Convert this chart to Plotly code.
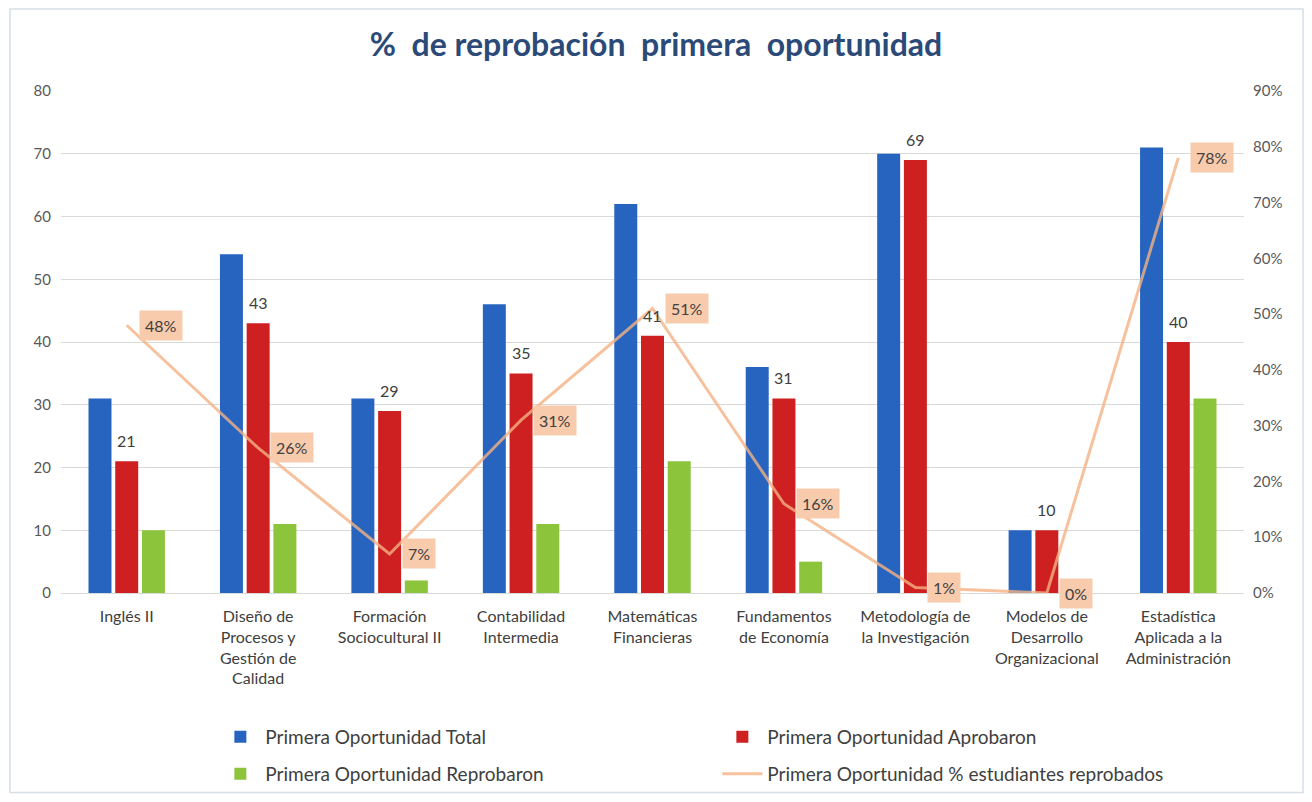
import plotly.graph_objects as go

font_family = 'Lato'
text_color = '#404040'
axis_color = '#595959'

categories = [
	'Inglés II',
	'Diseño de<br>Procesos y<br>Gestión de<br>Calidad',
	'Formación<br>Sociocultural II',
	'Contabilidad<br>Intermedia',
	'Matemáticas<br>Financieras',
	'Fundamentos<br>de Economía',
	'Metodología de<br>la Investigación',
	'Modelos de<br>Desarrollo<br>Organizacional',
	'Estadística<br>Aplicada a la<br>Administración',
]
total = [31, 54, 31, 46, 62, 36, 70, 10, 71]
aprobaron = [21, 43, 29, 35, 41, 31, 69, 10, 40]
reprobaron = [10, 11, 2, 11, 21, 5, 1, 0, 31]
pct_reprobados = [0.48, 0.26, 0.07, 0.31, 0.51, 0.16, 0.01, 0.00, 0.78]

fig = go.Figure()

fig.add_trace(go.Bar(
	x=categories, y=total, name='Primera Oportunidad Total',
	marker=dict(color='#2664C0', line=dict(width=0)),
	legend='legend',
))
fig.add_trace(go.Bar(
	x=categories, y=aprobaron, name='Primera Oportunidad Aprobaron',
	marker=dict(color='#CE2020', line=dict(width=0)),
	legend='legend',
))
fig.add_trace(go.Bar(
	x=categories, y=reprobaron, name='Primera Oportunidad Reprobaron',
	marker=dict(color='#8CC43C', line=dict(width=0)),
	legend='legend2',
))
fig.add_trace(go.Scatter(
	x=categories, y=pct_reprobados, name='Primera Oportunidad % estudiantes reprobados',
	mode='lines', yaxis='y2',
	line=dict(color='rgba(244,177,131,0.8)', width=3),
	legend='legend2',
))

# value labels over the red bars (red is the middle bar, so it sits on the category)
for cat, v in zip(categories, aprobaron):
	fig.add_annotation(
		x=cat, y=v, xref='x', yref='y',
		text=str(v), showarrow=False, yanchor='bottom', yshift=9,
		font=dict(color=text_color, size=16, family=font_family),
	)

# percentage labels with a peach box, right of each point
for cat, p in zip(categories, pct_reprobados):
	fig.add_annotation(
		x=cat, y=p, xref='x', yref='y2',
		text='%d%%' % round(p * 100),
		showarrow=False, xanchor='left', yanchor='middle', xshift=12,
		bgcolor='#F8CBAD', borderpad=5,
		font=dict(color=text_color, size=16, family=font_family),
	)

# light frame around the whole chart
fig.add_shape(
	type='rect', xref='paper', yref='paper',
	x0=-0.0431, x1=1.0499, y0=-0.3975, y1=1.1633,
	line=dict(color='#D6DEE8', width=1.5), fillcolor='rgba(0,0,0,0)', layer='below',
)

# legends placed on the container so they do not push the bottom margin
legend_common = dict(
	orientation='h', xanchor='left', yanchor='middle',
	xref='container', yref='container',
	entrywidth=447, entrywidthmode='pixels',
	font=dict(color=text_color, size=19, family=font_family),
	bgcolor='rgba(0,0,0,0)', itemwidth=40,
)

fig.update_layout(
	width=1296, height=786,
	margin=dict(l=53, r=60, t=83, b=201, pad=0),
	paper_bgcolor='white', plot_bgcolor='white',
	barmode='group', bargap=0.39, bargroupgap=0.14,
	title=dict(
		text='<b>%  de reprobación  primera  oportunidad</b>',
		font=dict(color='#2B4A78', size=32, family=font_family),
		x=0.5, xanchor='center', xref='container',
		y=1 - 37 / 786, yanchor='middle', yref='container',
	),
	font=dict(family=font_family, color=text_color),
	xaxis=dict(
		showgrid=False, showline=False, ticks='',
		tickfont=dict(color=text_color, size=16, family=font_family),
		ticklabelstandoff=12,
	),
	yaxis=dict(
		range=[0, 80], dtick=10, showgrid=True, gridcolor='#D9D9D9', gridwidth=1,
		zeroline=True, zerolinecolor='#D9D9D9', zerolinewidth=1, showline=False,
		tickfont=dict(color=axis_color, size=15, family=font_family),
		ticklabelstandoff=9,
	),
	yaxis2=dict(
		range=[0, 0.9], dtick=0.1, tickformat='.0%', overlaying='y', side='right',
		showgrid=False, zeroline=False, showline=False,
		tickfont=dict(color=axis_color, size=15, family=font_family),
		ticklabelstandoff=8,
	),
	legend=dict(x=0.16, y=1 - 729 / 786, **legend_common),
	legend2=dict(x=0.16, y=1 - 766 / 786, **legend_common),
)

fig.write_html('out.html')
